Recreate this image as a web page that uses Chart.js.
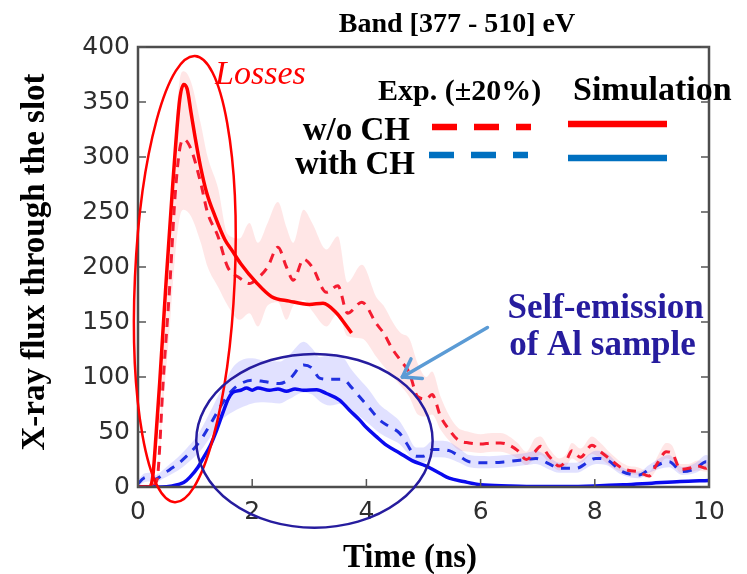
<!DOCTYPE html>
<html>
<head>
<meta charset="utf-8">
<script src="https://cdn.jsdelivr.net/npm/chart.js@4.4.1/dist/chart.umd.min.js"></script>
<style>
  html, body { margin: 0; padding: 0; background: #fff; }
  #wrap { width: 747px; height: 574px; }
</style>
</head>
<body>
<div id="wrap"><canvas id="chart"></canvas></div>
<script>
// Experiment, w/o CH (dashed red) and its ±20% band
const redExpTime = [0, 0.1, 0.2, 0.3, 0.35, 0.44, 0.56, 0.65, 0.73, 0.8, 0.93, 1.1, 1.22, 1.4, 1.57, 1.78, 1.95, 2.1, 2.27, 2.45,
  2.6, 2.72, 2.9, 3.05, 3.3, 3.5, 3.67, 3.92, 4.18, 4.3, 4.46, 4.6, 4.75, 4.9, 5.05, 5.15, 5.3, 5.45, 5.6, 5.8,
  6.0, 6.2, 6.35, 6.5, 6.65, 6.8, 6.95, 7.05, 7.2, 7.38, 7.5, 7.6, 7.75, 7.95, 8.1, 8.25, 8.45, 8.6, 8.75, 8.95,
  9.1, 9.25, 9.35, 9.5, 9.65, 9.8, 9.95, 10];
const redExp = [0, 0, 0, 3, 13, 95, 186, 265, 307, 316, 307, 276, 249, 228, 200, 190, 185, 190, 200, 218,
  200, 188, 207, 200, 177, 183, 158, 168, 148, 140, 125, 115, 104, 82, 80, 84, 64, 52, 43, 40,
  39, 40, 40, 38, 33, 25, 32, 37, 28, 19, 24, 33, 27, 38, 32, 26, 18, 15, 14, 10,
  22, 32, 31, 16, 17, 19, 17, 19];
const redExpHigh = [2, 2, 2, 5, 17, 115, 225, 320, 370, 378, 368, 330, 300, 272, 230, 226, 240, 222, 240, 259,
  236, 222, 252, 240, 216, 228, 186, 202, 172, 165, 150, 140, 135, 112, 100, 105, 82, 65, 54, 50,
  48, 49, 49, 46, 40, 32, 44, 46, 35, 26, 30, 40, 35, 46, 40, 32, 23, 19, 18, 14,
  28, 40, 38, 21, 21, 24, 22, 24];
const redExpLow = [0, 0, 0, 1, 9, 75, 148, 210, 245, 252, 246, 222, 200, 182, 165, 152, 158, 146, 165, 168,
  152, 165, 170, 160, 146, 158, 137, 135, 118, 110, 100, 92, 82, 66, 64, 66, 52, 42, 34, 32,
  31, 32, 32, 30, 26, 20, 26, 29, 22, 15, 19, 26, 22, 30, 26, 20, 14, 12, 11, 8,
  17, 26, 24, 13, 13, 15, 14, 15];

// Experiment, with CH (dashed blue) and its ±20% band
const blueExpTime = [0, 0.1, 0.2, 0.3, 0.45, 0.56, 0.7, 0.85, 1.0, 1.14, 1.3, 1.49, 1.65, 1.8, 2.0, 2.2, 2.48, 2.65, 2.9, 3.05,
  3.18, 3.36, 3.58, 3.75, 3.88, 4.05, 4.23, 4.4, 4.58, 4.7, 4.87, 5.0, 5.16, 5.3, 5.45, 5.63, 5.8, 6.15, 6.45, 6.8,
  6.97, 7.2, 7.38, 7.67, 8.02, 8.2, 8.48, 8.78, 8.95, 9.3, 9.53, 9.77, 9.95, 10];
const blueExp = [3, 8, 9, 7, 12, 16, 21, 28, 36, 46, 60, 77, 88, 94, 97, 96, 94, 98, 111, 108,
  99, 98, 98, 90, 82, 72, 61, 55, 49, 40, 28, 28, 34, 34, 33, 28, 23, 22, 23, 25,
  26, 21, 17, 17, 26, 25, 14, 11, 16, 23, 14, 17, 23, 22];
const blueExpHigh = [6, 12, 13, 11, 16, 21, 27, 35, 44, 56, 72, 92, 108, 115, 117, 115, 114, 120, 132, 126,
  118, 120, 118, 106, 98, 88, 75, 68, 60, 50, 36, 36, 42, 42, 41, 35, 29, 28, 29, 31,
  33, 27, 22, 22, 33, 31, 18, 14, 20, 29, 18, 22, 29, 28];
const blueExpLow = [0, 4, 5, 4, 8, 11, 15, 21, 28, 36, 48, 62, 68, 72, 76, 77, 76, 80, 86, 84,
  78, 74, 76, 70, 64, 57, 49, 44, 39, 32, 22, 22, 27, 27, 26, 22, 18, 17, 18, 20,
  21, 16, 13, 13, 21, 20, 11, 8, 13, 18, 11, 13, 18, 17];

// Simulation, w/o CH (solid red)
const redSimTime = [0, 0.2, 0.26, 0.32, 0.38, 0.49, 0.61, 0.73, 0.8, 0.86, 0.93, 1.0, 1.1, 1.2, 1.35, 1.52, 1.66, 1.8, 2.07, 2.34,
  2.65, 3.0, 3.24, 3.48, 3.6, 3.74];
const redSim = [0, 0, 10, 50, 95, 185, 276, 352, 366, 362, 340, 318, 290, 268, 246, 225, 214, 203, 186, 173,
  169, 166, 167, 158, 150, 140];

// Simulation, with CH (solid blue)
const blueSimTime = [0, 0.4, 0.6, 0.8, 0.91, 1.05, 1.15, 1.26, 1.38, 1.49, 1.58, 1.66, 1.8, 1.9, 2.0, 2.1, 2.3, 2.45, 2.6, 2.75,
  2.9, 3.13, 3.3, 3.53, 3.7, 3.88, 4.0, 4.17, 4.35, 4.58, 4.8, 5.05, 5.3, 5.45, 5.7, 6.0, 6.5, 7.0, 7.5, 8.0,
  8.5, 9.0, 9.5, 10];
const blueSim = [0, 0, 1, 4, 9, 18, 27, 37, 52, 68, 80, 86, 88, 90, 88, 90, 88, 89, 87, 89,
  88, 88.5, 85, 79, 70, 61, 54, 46, 38, 31, 24, 19, 12, 8, 5, 2, 1, 0.5, 0.5, 1,
  2, 3.5, 5, 6];

const xTicks = [0, 2, 4, 6, 8, 10];
const yTicks = [0, 50, 100, 150, 200, 250, 300, 350, 400];

const pts = (xs, ys) => xs.map((x, i) => ({ x: x, y: ys[i] }));

const serif = '"Liberation Serif", "Times New Roman", serif';
const navy = '#261c9e';

function line(ctx, x1, y1, x2, y2) {
  ctx.beginPath();
  ctx.moveTo(x1, y1);
  ctx.lineTo(x2, y2);
  ctx.stroke();
}

const decorations = {
  id: 'decorations',
  afterDraw(chart) {
    const ctx = chart.ctx;
    const a = chart.chartArea;
    const xs = chart.scales.x, ys = chart.scales.y;
    const px = v => xs.getPixelForValue(v);
    const py = v => ys.getPixelForValue(v);
    ctx.save();

    // frame and inner ticks
    ctx.strokeStyle = '#4d4d4d';
    ctx.lineWidth = 2.5;
    ctx.strokeRect(a.left, a.top, a.right - a.left, a.bottom - a.top);
    ctx.lineWidth = 1.5;
    ctx.strokeStyle = '#555';
    ys.ticks.forEach(t => {
      const y = py(t.value);
      line(ctx, a.left, y, a.left + 8, y);
      line(ctx, a.right - 8, y, a.right, y);
    });
    xs.ticks.forEach(t => {
      const x = px(t.value);
      line(ctx, x, a.bottom, x, a.bottom - 8);
    });

    // ellipses
    ctx.lineWidth = 2.5;
    ctx.strokeStyle = '#ff0000';
    ctx.beginPath();
    ctx.ellipse(px(0.82), py(189), px(0.874) - px(0), py(0) - py(203), 0.045, 0, Math.PI * 2);
    ctx.stroke();
    ctx.strokeStyle = navy;
    ctx.beginPath();
    ctx.ellipse(px(3.09), py(42), px(2.07) - px(0), py(0) - py(79), 0, 0, Math.PI * 2);
    ctx.stroke();

    // arrow
    const tx = px(6.12), ty = py(145), hx = px(4.63), hy = py(100);
    ctx.strokeStyle = '#5b9bd5';
    ctx.lineWidth = 3.5;
    ctx.lineCap = 'round';
    line(ctx, tx, ty, hx, hy);
    const ang = Math.atan2(ty - hy, tx - hx);
    [-0.6, 0.6].forEach(d => {
      line(ctx, hx, hy, hx + 20 * Math.cos(ang + d), hy + 20 * Math.sin(ang + d));
    });
    ctx.lineCap = 'butt';

    // annotation text
    ctx.textBaseline = 'alphabetic';
    ctx.textAlign = 'left';
    ctx.fillStyle = '#ff0000';
    ctx.font = 'italic 34px ' + serif;
    ctx.fillText('Losses', px(1.35), py(366));
    ctx.fillStyle = navy;
    ctx.font = 'bold 35px ' + serif;
    ctx.fillText('Self-emission', px(6.47), py(154));
    ctx.fillText('of Al sample', px(6.5), py(120));

    // title and axis titles
    ctx.fillStyle = '#000';
    ctx.textAlign = 'center';
    ctx.font = 'bold 28px ' + serif;
    ctx.fillText('Band [377 - 510] eV', 457, 32);
    ctx.font = 'bold 33px ' + serif;
    ctx.fillText('Time (ns)', 410, 567);
    ctx.save();
    ctx.translate(44, 262);
    ctx.rotate(-Math.PI / 2);
    ctx.fillText('X-ray flux through the slot', 0, 0);
    ctx.restore();

    // legend
    ctx.textAlign = 'left';
    ctx.font = 'bold 30px ' + serif;
    ctx.fillText('Exp. (\u00b120%)', 378, 100);
    ctx.font = 'bold 34px ' + serif;
    ctx.fillText('Simulation', 573, 100);
    ctx.textAlign = 'right';
    ctx.font = 'bold 33px ' + serif;
    ctx.fillText('w/o CH', 410, 140);
    ctx.fillText('with CH', 415, 174);

    ctx.lineWidth = 6.5;
    ctx.setLineDash([25, 17]);
    ctx.strokeStyle = '#ff0000';
    line(ctx, 432, 127, 531, 127);
    ctx.strokeStyle = '#0070c0';
    line(ctx, 429, 155, 528, 155);
    ctx.setLineDash([]);
    ctx.strokeStyle = '#ff0000';
    line(ctx, 568, 124, 667, 124);
    ctx.strokeStyle = '#0070c0';
    line(ctx, 568, 158, 667, 158);

    ctx.restore();
  }
};

const band = (data, fill, color, order) => ({
  data: data, borderWidth: 0, pointRadius: 0, fill: fill, backgroundColor: color,
  cubicInterpolationMode: 'monotone', order: order
});

new Chart(document.getElementById('chart'), {
  type: 'line',
  data: {
    datasets: [
      band(pts(redExpTime, redExpLow), false, 'rgba(0,0,0,0)', 6),
      band(pts(redExpTime, redExpHigh), '-1', 'rgba(255,60,60,0.13)', 6),
      band(pts(blueExpTime, blueExpLow), false, 'rgba(0,0,0,0)', 5),
      band(pts(blueExpTime, blueExpHigh), '-1', 'rgba(70,70,255,0.16)', 5),
      {
        label: 'Exp. w/o CH', data: pts(redExpTime, redExp), borderColor: '#f41c30', borderWidth: 3,
        borderDash: [9, 7], pointRadius: 0, fill: false, cubicInterpolationMode: 'monotone', order: 3
      },
      {
        label: 'Exp. with CH', data: pts(blueExpTime, blueExp), borderColor: '#2030e0', borderWidth: 3,
        borderDash: [9, 8], pointRadius: 0, fill: false, cubicInterpolationMode: 'monotone', order: 3
      },
      {
        label: 'Sim. w/o CH', data: pts(redSimTime, redSim), borderColor: '#ff0000', borderWidth: 3.5,
        pointRadius: 0, fill: false, cubicInterpolationMode: 'monotone', order: 1
      },
      {
        label: 'Sim. with CH', data: pts(blueSimTime, blueSim), borderColor: '#0a0aee', borderWidth: 3.5,
        pointRadius: 0, fill: false, cubicInterpolationMode: 'monotone', order: 2
      }
    ]
  },
  options: {
    responsive: true,
    maintainAspectRatio: false,
    devicePixelRatio: 1,
    animation: false,
    layout: { padding: { left: 0, right: 38, top: 47, bottom: 0 } },
    plugins: { legend: { display: false }, tooltip: { enabled: false } },
    scales: {
      x: {
        type: 'linear', min: 0, max: 10,
        afterBuildTicks: s => { s.ticks = xTicks.map(v => ({ value: v })); },
        afterFit: s => { s.height = 87; },
        grid: { display: false, drawTicks: false },
        border: { display: false },
        ticks: { padding: 10, color: '#2e2e2e', font: { family: '"DejaVu Sans"', size: 25 } }
      },
      y: {
        type: 'linear', min: 0, max: 400,
        afterBuildTicks: s => { s.ticks = yTicks.map(v => ({ value: v })); },
        afterFit: s => { s.width = 138; },
        grid: { display: false, drawTicks: false },
        border: { display: false },
        ticks: { padding: 8, color: '#2e2e2e', font: { family: '"DejaVu Sans"', size: 25 } }
      }
    }
  },
  plugins: [decorations]
});
</script>
</body>
</html>
